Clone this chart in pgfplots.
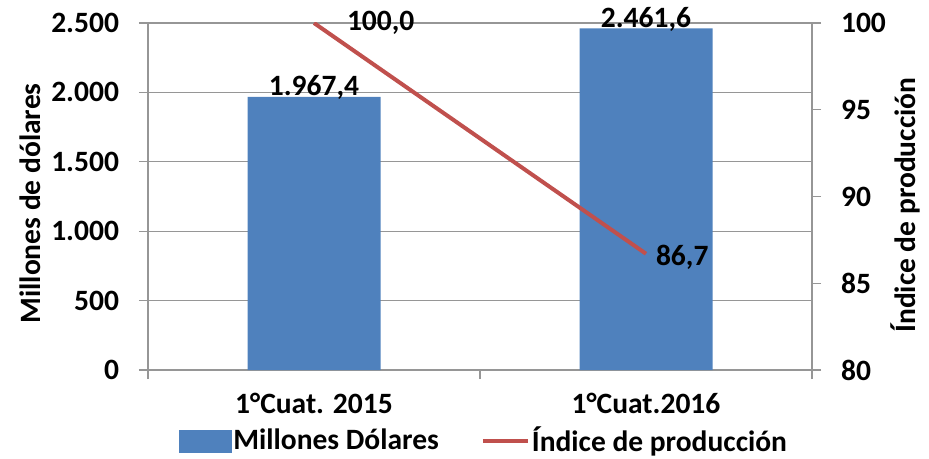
\documentclass[border=0pt]{standalone}
\usepackage{pgfplots}
\pgfplotsset{compat=1.18}
\usepackage{fontspec}
\setmainfont{Carlito}
\definecolor{barblue}{HTML}{4F81BD}
\definecolor{linered}{HTML}{C0504D}
\definecolor{gridgray}{RGB}{150,150,150}
\begin{document}
\fontsize{29.5}{34}\selectfont\bfseries
\begin{tikzpicture}
\path[use as bounding box] (0pt,0pt) rectangle (929pt,458pt);
\begin{axis}[
  at={(148pt,88pt)}, anchor=south west,
  scale only axis, width=664pt, height=347pt,
  xmin=-0.5, xmax=1.5, ymin=0, ymax=2500,
  ytick={0,500,...,2500},
  /pgf/number format/1000 sep={.},
  /pgf/number format/assume math mode=true,
  ymajorgrids,
  grid style={gridgray, line width=1.2pt},
  axis line style={gridgray, line width=1.2pt},
  tick style={gridgray, line width=1.2pt},
  major tick length=9pt, tick align=outside,
  axis x line*=bottom, axis y line*=left,
  xtick={-0.5,0.5,1.5}, xticklabels={,,},
  extra x ticks={0,1},
  extra x tick labels={1°Cuat. 2015,1°Cuat.2016},
  extra x tick style={major tick length=0pt, grid=none},
  xticklabel style={yshift=-13pt},
  yticklabel style={xshift=-10pt},
  ylabel={Millones de dólares},
  every axis y label/.style={at={(axis description cs:-0.178,0.48)}, rotate=90, anchor=center},
  clip=false,
  legend style={at={(0.506,-0.205)}, anchor=center, draw=none, fill=none,
    legend columns=2, /tikz/every even column/.append style={column sep=40pt},
    nodes={inner sep=2pt}},
  legend cell align=left,
]
\addplot[forget plot, ybar, bar width=133pt, bar shift=0pt, fill=barblue, draw=none,
  nodes near coords, point meta=explicit symbolic,
  nodes near coords style={anchor=base, inner sep=0pt, yshift=1pt, text=black}]
  coordinates {(0,1967.4) [1.967,4] (1,2461.6) [2.461,6]};
\addlegendimage{legend image code/.code={\fill[barblue] (0pt,-11pt) rectangle (52pt,11pt);}}
\addlegendentry{Millones Dólares}
\addlegendimage{legend image code/.code={\draw[linered, line width=4pt] (0pt,0pt) -- (45pt,0pt);}}
\addlegendentry{Índice de producción}
\end{axis}
\begin{axis}[
  at={(148pt,88pt)}, anchor=south west,
  scale only axis, width=664pt, height=347pt,
  xmin=-0.5, xmax=1.5, ymin=80, ymax=100,
  ytick={80,85,...,100},
  /pgf/number format/assume math mode=true,
  axis line style={gridgray, line width=1.2pt},
  tick style={gridgray, line width=1.2pt},
  major tick length=9pt, tick align=outside,
  axis y line*=right, axis x line=none,
  yticklabel style={xshift=10pt},
  ylabel={Índice de producción},
  every axis y label/.style={at={(axis description cs:1.14,0.475)}, rotate=90, anchor=center},
]
\addplot[linered, line width=4pt, mark=none,
  nodes near coords, point meta=explicit symbolic,
  visualization depends on={\thisrow{dx} \as \dx},
  visualization depends on={\thisrow{dy} \as \dy},
  nodes near coords style={anchor=west, inner sep=0pt, xshift=\dx pt, yshift=\dy pt, text=black}]
  table[x=x, y=y, meta=lab] {
x y lab dx dy
0 100 100,0 31 0
1 86.7 86,7 8 -4
};
\end{axis}
\end{tikzpicture}
\end{document}
